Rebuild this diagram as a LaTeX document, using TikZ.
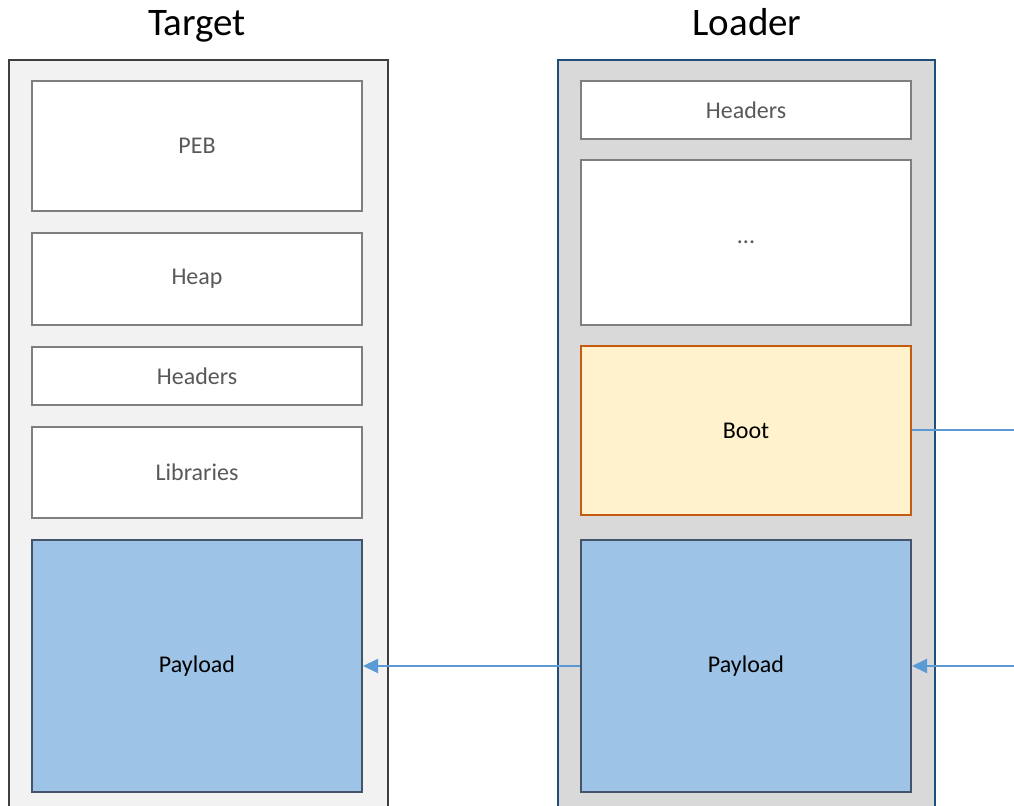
\documentclass[tikz,border=0pt]{standalone}
\usepackage{fontspec}
\setmainfont{Carlito}
\usepackage{tikz}
\usetikzlibrary{arrows.meta}
\usepackage{xcolor}
\definecolor{targetbg}{HTML}{F2F2F2}
\definecolor{targetline}{HTML}{3F3F3F}
\definecolor{loaderbg}{HTML}{D9D9D9}
\definecolor{loaderline}{HTML}{1F4E79}
\definecolor{segline}{HTML}{7F7F7F}
\definecolor{segtext}{HTML}{595959}
\definecolor{payfill}{HTML}{9DC3E6}
\definecolor{payline}{HTML}{44546A}
\definecolor{bootfill}{HTML}{FFF2CC}
\definecolor{bootline}{HTML}{C55A11}
\definecolor{flowblue}{HTML}{5B9BD5}

\begin{document}
\begin{tikzpicture}[x=0.5pt, y=-0.5pt, >={Triangle[length=7.5pt,width=7pt]},
    seg/.style={draw=segline, line width=1pt, fill=white, text=segtext,
      minimum width=165pt, minimum height=#1, inner sep=0pt,
      font=\fontsize{12}{14}\selectfont},
    payseg/.style={seg=#1, draw=payline, fill=payfill, text=black},
    bootseg/.style={seg=#1, draw=bootline, fill=bootfill, text=black},
    title/.style={anchor=base, font=\fontsize{19.5}{23}\selectfont},
    flow/.style={draw=flowblue, line width=1pt}]
  \clip (0,0) rectangle (1014,806);
  % process columns
  \draw[targetline, fill=targetbg, line width=1pt] (9,60) rectangle (388,830);
  \draw[loaderline, fill=loaderbg, line width=1pt] (558,60) rectangle (935,830);
  \node[title] (ttitle) at (197,36) {Target};
  \node[title] (ltitle) at (747,36) {Loader};
  % target memory
  \node[seg=65pt] (peb) at (197,146) {PEB};
  \node[seg=46pt] (heap) at (197,279) {Heap};
  \node[seg=29pt] (thead) at (197,376) {Headers};
  \node[seg=45.5pt] (libs) at (197,472.5) {Libraries};
  \node[payseg=126pt] (tpay) at (197,666) {Payload};
  % loader memory
  \node[seg=29pt] (lhead) at (746,110) {Headers};
  \node[seg=82.5pt] (dots) at (746,242.5) {...};
  \node[bootseg=84.5pt] (boot) at (746,430.5) {Boot};
  \node[payseg=126pt] (lpay) at (746,666) {Payload};
  % copies
  \draw[flow, ->] (lpay.west) -- (tpay.east);
  \coordinate (bootout) at (1014,430);
  \coordinate (payin) at (1014,666);
  \draw[flow] (boot.east) -- (boot.east -| bootout);
  \draw[flow, ->] (payin) -- (lpay.east);
\end{tikzpicture}
\end{document}
